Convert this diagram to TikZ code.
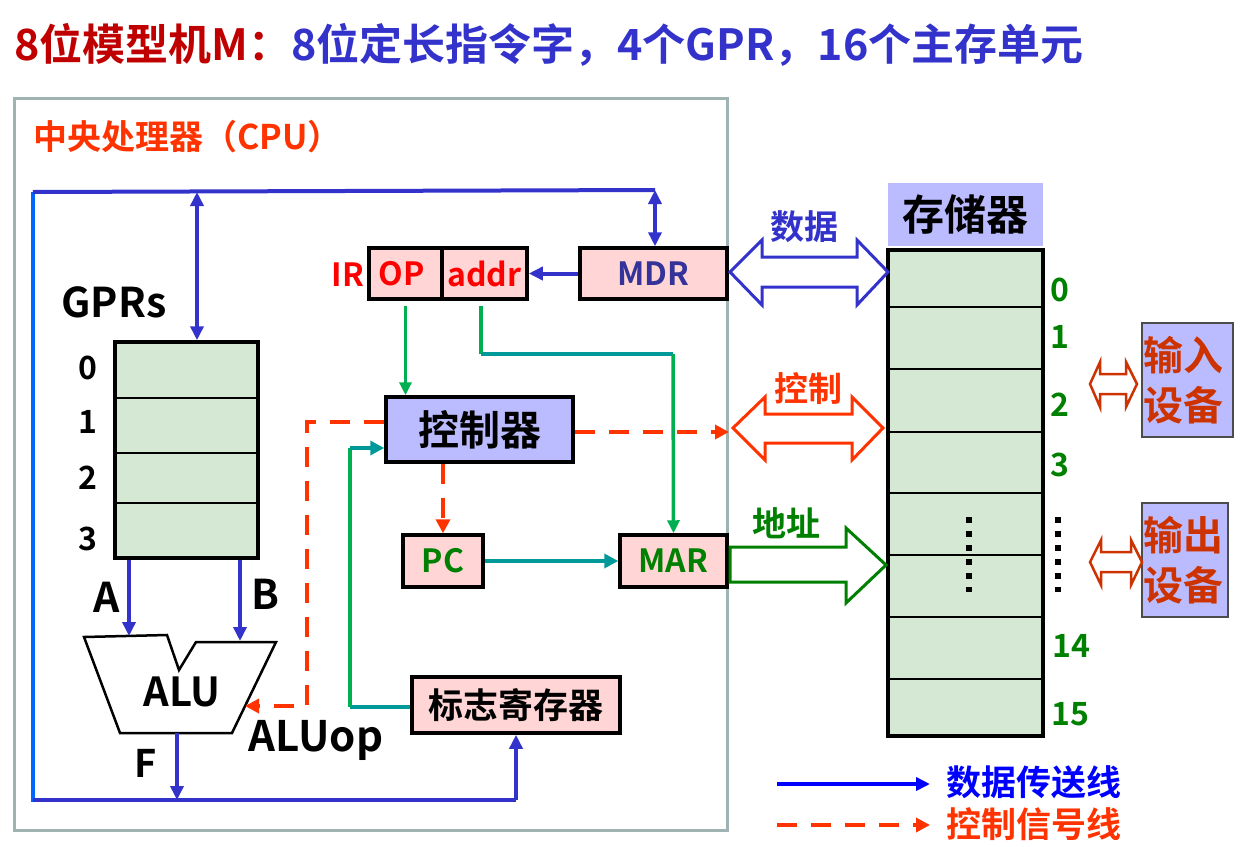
\documentclass[tikz,border=0pt]{standalone}
\usepackage{fontspec}
\setmainfont{Noto Sans CJK SC}[BoldFont={Noto Sans CJK SC Bold}]
\usetikzlibrary{arrows.meta,calc}
\definecolor{titlered}{HTML}{C00000}
\definecolor{titleblue}{HTML}{3333CC}
\definecolor{cpured}{HTML}{FF3300}
\definecolor{cpugray}{HTML}{9FB3B3}
\definecolor{busblue}{HTML}{3333CC}
\definecolor{leftblue}{HTML}{0066FF}
\definecolor{legblue}{HTML}{0000FF}
\definecolor{pinkf}{HTML}{FFD5D5}
\definecolor{lavf}{HTML}{BBBBFF}
\definecolor{greenf}{HTML}{D5E8D4}
\definecolor{txtgreen}{HTML}{008000}
\definecolor{lngreen}{HTML}{00B050}
\definecolor{lnteal}{HTML}{009999}
\definecolor{ctrlred}{HTML}{FF3300}
\definecolor{ioorange}{HTML}{CC3300}
\definecolor{mdrtxt}{HTML}{333399}
\newcommand\fsz[1]{\fontsize{#1}{#1}\selectfont}
\newcommand\fszb[2]{\fontsize{#1}{#2}\selectfont}
\begin{document}
\begin{tikzpicture}[x=1pt,y=-1pt,
  box/.style={draw=black, line width=3.5pt, inner sep=0pt, font=\bfseries\fsz{32}},
  pinkbox/.style={box, fill=pinkf},
  lavbox/.style={box, fill=lavf},
  lbl/.style={inner sep=0pt, font=\bfseries\fsz{#1}},
  lbl/.default=30,
  bus/.style={draw=busblue, line width=4pt},
  btip/.style={-{Triangle[length=14pt,width=13pt]}},
  bbtip/.style={{Triangle[length=14pt,width=13pt]}-{Triangle[length=14pt,width=13pt]}},
  gline/.style={draw=lngreen, line width=3.5pt},
  tline/.style={draw=lnteal, line width=4pt},
  gtip/.style={-{Triangle[length=13pt,width=12pt]}},
  ctrl/.style={draw=ctrlred, line width=3.5pt, dash pattern=on 20pt off 14pt},
  ctip/.style={-{Triangle[length=14pt,width=14pt]}},
  fatarrow/.style={line width=3pt, fill=white, line join=miter},
  iotext/.style={inner sep=0pt, text=ioorange, align=center, font=\bfseries\fszb{40}{50}},
]
\useasboundingbox (0,0) rectangle (1246,846);

% title
\node[lbl=43, anchor=west] (title) at (14,45) {\color{titlered}8位模型机M：\color{titleblue}8位定长指令字，4个GPR，16个主存单元};

% CPU frame
\node[draw=cpugray, line width=3pt, minimum width=713, minimum height=732, inner sep=0pt] (cpu) at (370.5,464) {};
\node[lbl=34, text=cpured, anchor=west] (cpulbl) at (33,137) {中央处理器（CPU）};

% registers
\node[box, fill=greenf, minimum width=143, minimum height=216] (gpr) at (186.5,450) {};
\draw[line width=1.5pt] (115,398) -- (258,398) (115,453) -- (258,453) (115,503) -- (258,503);
\node[lbl=41] (gprs) at (114,302) {GPRs};
\node[lbl=32] (g0) at (88,368) {0};
\node[lbl=32] (g1) at (88,422) {1};
\node[lbl=32] (g2) at (88,478) {2};
\node[lbl=32] (g3) at (88,539) {3};

\node[pinkbox, minimum width=73, minimum height=51, text=red] (op) at (405.5,273.5) {\hspace*{-8pt}OP};
\node[pinkbox, minimum width=85, minimum height=51, text=red] (addr) at (484.5,273.5) {addr};
\node[lbl=32, text=red] (irl) at (348,275) {IR};
\node[pinkbox, minimum width=147, minimum height=51, text=mdrtxt] (mdr) at (653.5,273.5) {MDR};

\node[lavbox, minimum width=187, minimum height=65, font=\bfseries\fsz{41}] (ctl) at (479.5,429.5) {控制器};
\node[pinkbox, minimum width=80, minimum height=52, text=txtgreen] (pc) at (443,561) {PC};
\node[pinkbox, minimum width=107, minimum height=52, text=txtgreen] (mar) at (673.5,561) {MAR};
\node[pinkbox, minimum width=208, minimum height=56, font=\bfseries\fsz{35}] (flag) at (516,705) {标志寄存器};

% ALU
\draw[line width=2.5pt, fill=white, line join=miter] (84,637) -- (167,635) -- (179,670) -- (196,642) -- (276,642) -- (232,733) -- (120,733) -- cycle;
\node[lbl=40] (alu) at (182,692) {ALU};
\node[lbl=42] (aluop) at (316,740) {ALUop};
\node[lbl=41] (la) at (107,597) {A};
\node[lbl=41] (lb) at (265,594) {B};
\node[lbl=38] (lf) at (146,763) {F};
\coordinate (aluA) at (129,636);
\coordinate (aluB) at (240,641);
\coordinate (aluF) at (177,733);
\coordinate (aluOp) at (245,706);

% buses
\coordinate (busTL) at (33,192);
\coordinate (busBL) at (33,802);
\coordinate (busTR) at (655,190);
\coordinate (busBR) at (516,800);
\coordinate (busG) at (197,192);
\draw[draw=leftblue, line width=4pt] (busTL) -- (busBL);
\draw[bus] (busTL) -- (busTR);
\draw[bus] (33,800) -- (busBR);
\draw[bus, bbtip] (busG) -- (busG |- gpr.north);
\draw[bus, bbtip] (busTR) -- (busTR |- mdr.north);
\draw[bus, btip] (aluF) -- (aluF |- busBR);
\draw[bus, btip] (busBR) -- (flag.south);
\draw[bus, btip] (gpr.south -| aluA) -- (aluA);
\draw[bus, btip] (gpr.south -| aluB) -- (aluB);
\draw[bus, btip] (mdr.west) -- (addr.east);

% green / teal connections
\draw[gline, gtip] ($(op.south)+(0,5)$) -- (op.south |- ctl.north);
\coordinate (ac1) at (481,354);
\coordinate (ac2) at (673,354);
\draw[gline] ($(addr.south -| ac1)+(0,5)$) -- (ac1);
\draw[tline] (ac1) -- (ac2);
\draw[gline, gtip] (ac2) -- (mar.north);
\draw[tline, -{Triangle[length=14pt,width=14pt]}] (pc.east) -- (mar.west);
\coordinate (fc1) at (350,707);
\coordinate (fc2) at (350,448);
\draw[tline] (flag.west |- fc1) -- (fc1);
\draw[gline] (fc1) -- (fc2);
\draw[tline, -{Triangle[length=14pt,width=14pt]}] (fc2) -- (fc2 -| ctl.west);

% control signals
\coordinate (cc1) at (307,422);
\coordinate (cc2) at (307,706);
\coordinate (ctlout) at (729,432);
\draw[ctrl, ctip] (ctl.west |- cc1) -- (cc1) -- (cc2) -- (aluOp);
\draw[ctrl, ctip] (ctl.east |- ctlout) -- (ctlout);
\draw[ctrl, ctip] (pc.north |- ctl.south) -- (pc.north);

% memory
\node[lavbox, draw=none, minimum width=155, minimum height=63, font=\bfseries\fsz{42}] (memlbl) at (965.5,214.5) {存储器};
\node[draw=black, line width=4.5pt, fill=greenf, minimum width=155, minimum height=486, inner sep=0pt] (mem) at (965.5,493) {};
\foreach \yy in {307,369,432,493,555,617,679} \draw[line width=1.5pt] (890,\yy) -- (1041,\yy);
\draw[line width=6pt, dash pattern=on 6pt off 8pt] (969,517) -- (969,592);
\draw[line width=6pt, dash pattern=on 6pt off 8pt] (1058,517) -- (1058,592);
\node[lbl=32, text=txtgreen] (m0) at (1060,290) {0};
\node[lbl=32, text=txtgreen] (m1) at (1060,337) {1};
\node[lbl=32, text=txtgreen] (m2) at (1060,405) {2};
\node[lbl=32, text=txtgreen] (m3) at (1060,465) {3};
\node[lbl=32, text=txtgreen] (m14) at (1071,646) {14};
\node[lbl=32, text=txtgreen] (m15) at (1070,714) {15};

% fat arrows
\draw[fatarrow, draw=busblue] (730,272) -- (762,240) -- (762,257) -- (857,257) -- (857,240) -- (888,272) -- (857,305) -- (857,287) -- (762,287) -- (762,305) -- cycle;
\node[lbl=34, text=titleblue] (ldata) at (804,227) {数据};
\draw[fatarrow, draw=ctrlred] (733,428) -- (765,397) -- (765,414) -- (852,414) -- (852,397) -- (883,428) -- (852,460) -- (852,443) -- (765,443) -- (765,460) -- cycle;
\node[lbl=34, text=ctrlred] (lctl) at (808,388) {控制};
\draw[fatarrow, draw=txtgreen] (730,547) -- (846,547) -- (846,528) -- (886,565) -- (846,603) -- (846,582) -- (730,582) -- cycle;
\node[lbl=34, text=txtgreen] (laddr) at (786,523) {地址};

% IO
\node[draw=black!70, line width=1.5pt, fill=lavf, minimum width=91, minimum height=114, inner sep=0pt] (inbox) at (1187.5,380) {};
\node[iotext] (intext) at (1183,380) {输入\\设备};
\node[draw=black!70, line width=1.5pt, fill=lavf, minimum width=86, minimum height=114, inner sep=0pt] (outbox) at (1185,560) {};
\node[iotext] (outtext) at (1183,560) {输出\\设备};
\draw[line width=2.5pt, draw=ioorange, fill=white] (1090,384) -- (1100,362) -- (1100,374) -- (1126,374) -- (1126,362) -- (1137,384) -- (1126,407) -- (1126,394) -- (1100,394) -- (1100,407) -- cycle;
\draw[line width=2.5pt, draw=ioorange, fill=white] (1090,562) -- (1101,540) -- (1101,552) -- (1131,552) -- (1131,540) -- (1142,562) -- (1131,585) -- (1131,572) -- (1101,572) -- (1101,585) -- cycle;

% legend
\coordinate (l1s) at (777,784);
\coordinate (l1e) at (930,784);
\coordinate (l2s) at (777,825);
\coordinate (l2e) at (930,825);
\draw[draw=legblue, line width=4pt, btip] (l1s) -- (l1e);
\draw[ctrl, ctip] (l2s) -- (l2e);
\node[lbl=35, text=legblue, anchor=west] (leg1) at (946,782) {数据传送线};
\node[lbl=35, text=ctrlred, anchor=west] (leg2) at (946,824) {控制信号线};
\end{tikzpicture}
\end{document}
